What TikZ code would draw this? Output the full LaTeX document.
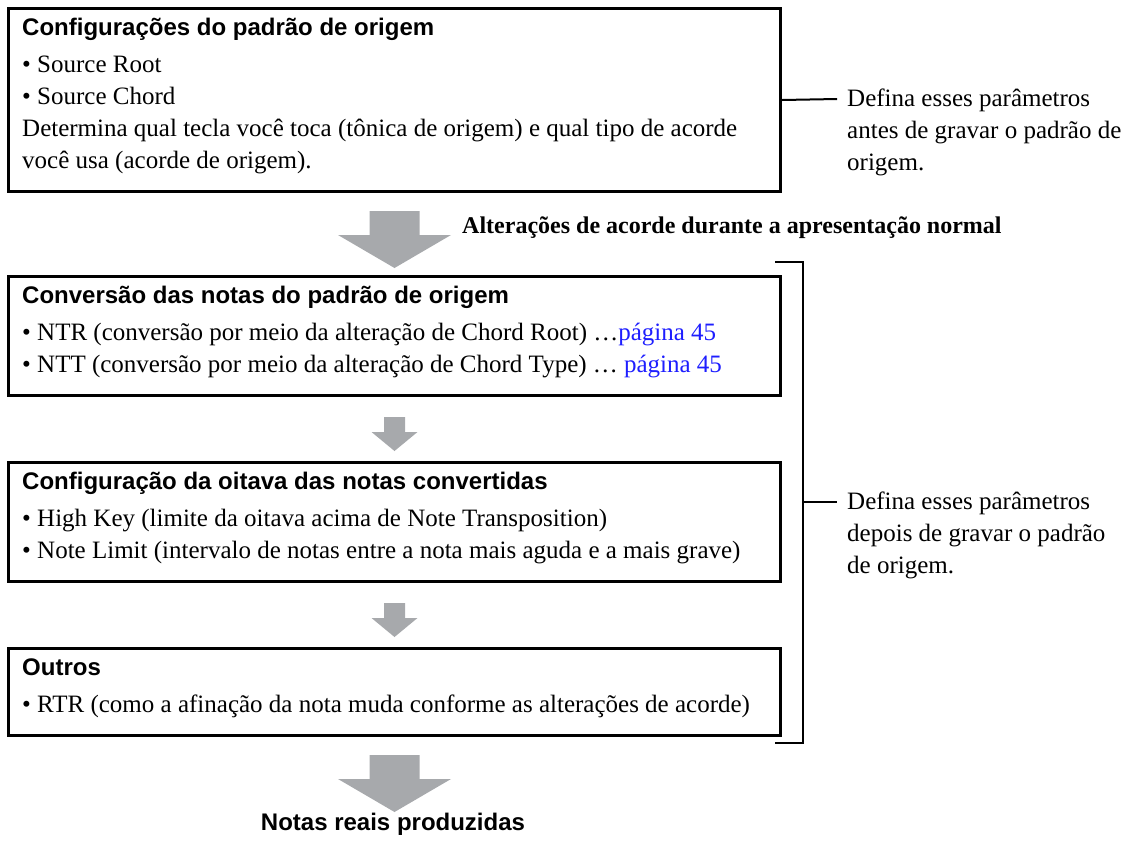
\documentclass[tikz,border=0pt]{standalone}
\usepackage{fontspec}
\setmainfont{Liberation Serif}
\newfontfamily\headsans{Liberation Sans}
\usetikzlibrary{calc}
\definecolor{arrowgray}{RGB}{167,169,172}
\definecolor{linkblue}{RGB}{30,30,255}
\newcommand{\bodyfont}{\fontsize{25}{32}\selectfont}
\newcommand{\ttlfont}{\headsans\bfseries\fontsize{24}{30}\selectfont}
\newcommand{\lblfont}{\bfseries\fontsize{24}{30}\selectfont}
\tikzset{
  box/.style={draw, line width=3pt, anchor=north west, inner sep=0pt, minimum width=772pt},
  txt/.style={anchor=base west, inner sep=0pt, font=\bodyfont},
  ttl/.style={anchor=base west, inner sep=0pt, font=\ttlfont},
  brk/.style={line width=2pt},
  bigarrow/.pic={\fill[arrowgray] (-25,0) -- (25,0) -- (25,24) -- (56.5,24) -- (0,57) -- (-56.5,24) -- (-25,24) -- cycle;},
  smallarrow/.pic={\fill[arrowgray] (-10.5,0) -- (10.5,0) -- (10.5,15) -- (23,15) -- (0,34) -- (-23,15) -- (-10.5,15) -- cycle;}
}
\begin{document}
\begin{tikzpicture}[x=1pt,y=-1pt]
\useasboundingbox (0,0) rectangle (1123,844);
% boxes
\node[box, minimum height=183pt] (b1) at (7,7) {};
\node[box, minimum height=119pt] (b2) at (7,275) {};
\node[box, minimum height=119pt] (b3) at (7,461) {};
\node[box, minimum height=87pt] (b4) at (7,647) {};
% box 1 text
\node[ttl] (t1) at (22,35) {Configurações do padrão de origem};
\node[txt] (t1a) at (22,72) {• Source Root};
\node[txt] (t1b) at (22,104) {• Source Chord};
\node[txt] (t1c) at (22,136) {Determina qual tecla você toca (tônica de origem) e qual tipo de acorde};
\node[txt] (t1d) at (22,168) {você usa (acorde de origem).};
% box 2 text
\node[ttl] (t2) at (22,303) {Conversão das notas do padrão de origem};
\node[txt] (t2a) at (22,340) {• NTR (conversão por meio da alteração de Chord Root) …\textcolor{linkblue}{página 45}};
\node[txt] (t2b) at (22,372) {• NTT (conversão por meio da alteração de Chord Type) … \textcolor{linkblue}{página 45}};
% box 3 text
\node[ttl] (t3) at (22,489) {Configuração da oitava das notas convertidas};
\node[txt] (t3a) at (22,526) {• High Key (limite da oitava acima de Note Transposition)};
\node[txt] (t3b) at (22,558) {• Note Limit (intervalo de notas entre a nota mais aguda e a mais grave)};
% box 4 text
\node[ttl] (t4) at (22,675) {Outros};
\node[txt] (t4a) at (22,712) {• RTR (como a afinação da nota muda conforme as alterações de acorde)};
% arrows
\pic at ($(b1.south)+(0,18)$) {bigarrow};
\pic at ($(b2.south)+(0,20)$) {smallarrow};
\pic at ($(b3.south)+(0,20)$) {smallarrow};
\pic at ($(b4.south)+(0,18)$) {bigarrow};
\node[anchor=base west, inner sep=0pt, font=\lblfont] (lbl) at (462,233) {Alterações de acorde durante a apresentação normal};
\node[anchor=base, inner sep=0pt, font=\ttlfont] (out) at (393,830) {Notas reais produzidas};
% top right note
\coordinate (c1) at (837,99);
\draw[brk] (b1.east) -- (c1);
\node[txt] (n1a) at (847,106) {Defina esses parâmetros};
\node[txt] (n1b) at (847,138) {antes de gravar o padrão de};
\node[txt] (n1c) at (847,170) {origem.};
% bracket
\coordinate (bt0) at (775,262);
\coordinate (bt1) at (803,262);
\coordinate (bb1) at (803,743);
\coordinate (bb0) at (775,743);
\coordinate (bm) at (803,502);
\coordinate (bm1) at (837,502);
\draw[brk] (bt0) -- (bt1) -- (bb1) -- (bb0);
\draw[brk] (bm) -- (bm1);
\node[txt] (n2a) at (847,509) {Defina esses parâmetros};
\node[txt] (n2b) at (847,541) {depois de gravar o padrão};
\node[txt] (n2c) at (847,573) {de origem.};
\end{tikzpicture}
\end{document}
